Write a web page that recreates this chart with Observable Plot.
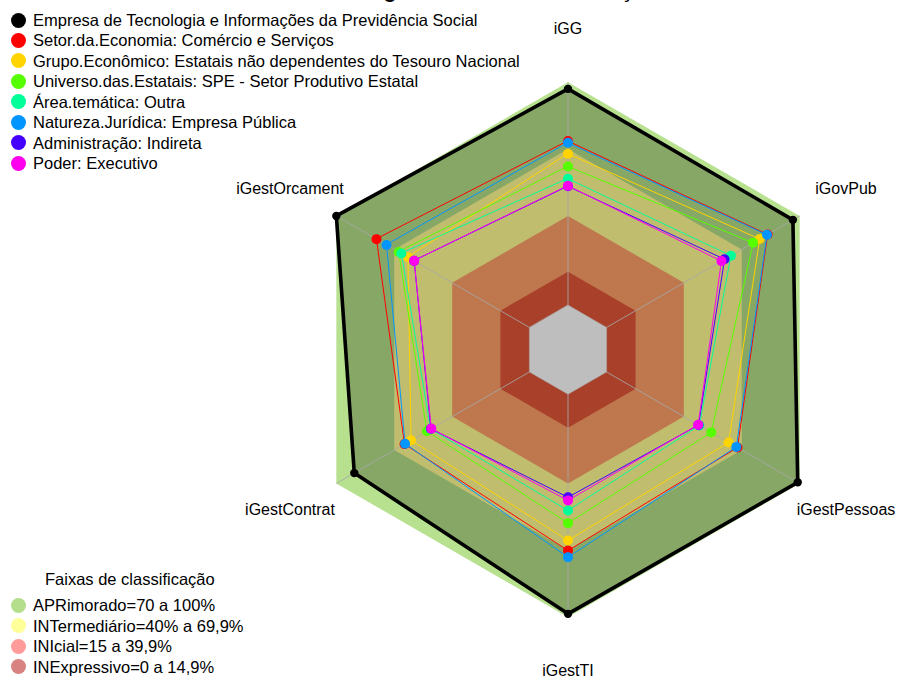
<!DOCTYPE html>
<html><head><meta charset="utf-8">
<script src="https://cdn.jsdelivr.net/npm/d3@7"></script>
<script src="https://cdn.jsdelivr.net/npm/@observablehq/plot@0.6"></script>
<style>
body{margin:0;background:#fff;font-family:"Liberation Sans",Arial,sans-serif;}
#wrap{position:relative;width:900px;height:677px;overflow:hidden;}
#wrap svg{position:absolute;left:0;top:0;}
.title{position:absolute;top:-19px;left:276px;font-weight:bold;font-size:21px;line-height:20px;white-space:nowrap;color:#000;font-family:"Liberation Sans",Arial,sans-serif;}
.leg{position:absolute;font-size:16.5px;line-height:20px;white-space:nowrap;color:#000;}
.leg .row{position:absolute;left:0;height:20px;}
.leg .sw{position:absolute;left:10.5px;width:15px;height:15px;border-radius:50%;top:2.5px;}
.leg .tx{position:absolute;left:33px;top:0;}
.leg .hd{font-size:16.5px;}
</style></head><body><div id="wrap"></div>
<script>
// ---------- data ----------
const axes = ["iGG", "iGovPub", "iGestPessoas", "iGestTI", "iGestContrat", "iGestOrcament"];

const seriesNames = [
  "Empresa de Tecnologia e Informações da Previdência Social",
  "Setor.da.Economia: Comércio e Serviços",
  "Grupo.Econômico: Estatais não dependentes do Tesouro Nacional",
  "Universo.das.Estatais: SPE - Setor Produtivo Estatal",
  "Área.temática: Outra",
  "Natureza.Jurídica: Empresa Pública",
  "Administração: Indireta",
  "Poder: Executivo"
];
const seriesColors = ["#000000", "#FF0000", "#FFD400", "#55FF00", "#00FF99", "#0095FF", "#4400FF", "#FF00EE"];

// values in axis order: iGG, iGovPub, iGestPessoas, iGestTI, iGestContrat, iGestOrcament
const empresa       = [97.0, 96.5, 99.0, 98.5, 90.7, 100.0];
const setor         = [73.6, 83.4, 67.8, 70.1, 64.7, 79.2];
const grupo         = [67.9, 79.3, 63.2, 65.6, 61.3, 62.9];
const universo      = [62.2, 75.9, 54.2, 57.8, 53.1, 67.7];
const areaTematica  = [56.7, 64.4, 48.0, 52.1, 51.2, 66.3];
const natureza      = [72.8, 83.1, 67.2, 73.1, 64.4, 74.0];
const administracao = [53.3, 61.1, 47.6, 46.2, 51.0, 59.7];
const poder         = [53.5, 59.5, 47.4, 47.6, 50.8, 59.7];
const seriesValues = [empresa, setor, grupo, universo, areaTematica, natureza, administracao, poder];

const bandTitle = "Faixas de classificação";
const bandNames = ["APRimorado=70 a 100%", "INTermediário=40% a 69,9%", "INIcial=15 a 39,9%", "INExpressivo=0 a 14,9%"];
const bandLegendColors = ["#B4DD8C", "#FFFF99", "#FF9B9B", "#D98282"];
const bandUpper = [100, 70, 40, 15, 0];
const bandFills = ["#B7E08F", "#C1BD6E", "#BF774E", "#A8402A", "#BEBEBE"];
const insideFill = "#87A766";

const titleText = "Resultado geral e índices de avaliação";

// ---------- geometry ----------
const W = 900, H = 677, cx = 567.5, cy = 349.2, R = 267.5;
const segs = 5;
const rad = v => 1 / (segs + 1) + (segs / (segs + 1)) * v / 100;
const pt = (v, i) => {
  const a = i * Math.PI / 3;
  const r = rad(v);
  return {x: r * Math.sin(a), y: r * Math.cos(a), i};
};
const poly = vals => vals.map((v, i) => pt(v, i));
const ring = v => axes.map((_, i) => pt(v, i));

const marks = [];
marks.push(Plot.line(ring(bandUpper[0]), {x: "x", y: "y", curve: "linear-closed", fill: bandFills[0], stroke: "none"}));
marks.push(Plot.line(poly(empresa), {x: "x", y: "y", curve: "linear-closed", fill: insideFill, stroke: "none"}));
for (let k = 1; k < bandUpper.length - 1; k++) {
  marks.push(Plot.line(ring(bandUpper[k]), {x: "x", y: "y", curve: "linear-closed", fill: bandFills[k], stroke: "none"}));
}
// radial axes from the zero ring to the 100% ring
const spokes = axes.map((a, i) => ({a, x1: pt(0, i).x, y1: pt(0, i).y, x2: pt(100, i).x, y2: pt(100, i).y}));
marks.push(Plot.link(spokes, {x1: "x1", y1: "y1", x2: "x2", y2: "y2", stroke: "#A8A8A8", strokeWidth: 1, strokeOpacity: 0.85}));
// centre (below zero)
marks.push(Plot.line(ring(0), {x: "x", y: "y", curve: "linear-closed", fill: bandFills[bandFills.length - 1], stroke: "#A8A8A8", strokeWidth: 0.8, strokeOpacity: 0.6}));

// series
seriesValues.forEach((vals, s) => {
  const p = poly(vals);
  const isMain = s === 0;
  marks.push(Plot.line(p, {x: "x", y: "y", curve: "linear-closed", stroke: seriesColors[s], strokeWidth: isMain ? 3.6 : 1, fill: "none"}));
  marks.push(Plot.dot(p, {x: "x", y: "y", r: isMain ? 4.2 : 5, fill: seriesColors[s], stroke: "none"}));
});

// axis labels
const labelPts = axes.map((a, i) => ({name: a, x: 1.2 * Math.sin(i * Math.PI / 3), y: 1.2 * Math.cos(i * Math.PI / 3)}));
marks.push(Plot.text(labelPts, {x: "x", y: "y", text: "name", fontSize: 16, fill: "#000", fontFamily: "Liberation Sans, Arial, sans-serif"}));

const chart = Plot.plot({
  width: W, height: H, margin: 0,
  x: {domain: [-cx / R, (W - cx) / R], axis: null},
  y: {domain: [-(H - cy) / R, cy / R], axis: null},
  style: {background: "transparent"},
  marks
});
const wrap = document.getElementById("wrap");
wrap.appendChild(chart);

// title (mostly above the visible area); align its descenders with the reference
const t = document.createElement("div");
t.className = "title"; t.textContent = titleText; wrap.appendChild(t);
function charCenter(idx) {
  const rg = document.createRange();
  rg.setStart(t.firstChild, idx); rg.setEnd(t.firstChild, idx + 1);
  const b = rg.getBoundingClientRect();
  return (b.left + b.right) / 2;
}
const gi = titleText.indexOf("g"), ci = titleText.indexOf("ç");
let d = charCenter(ci) - charCenter(gi);
if (d > 0) {
  const fs = 21 * 237 / d;
  t.style.fontSize = fs + "px";
}
const shift = 390 - charCenter(gi);
t.style.left = (276 + shift) + "px";

// legends
function legend(names, colors, top, step, titleStr) {
  const box = document.createElement("div");
  box.className = "leg"; box.style.left = "0px"; box.style.top = top + "px";
  if (titleStr) {
    const h = document.createElement("div");
    h.className = "row hd"; h.style.top = "-26px"; h.style.left = "45px"; h.textContent = titleStr;
    box.appendChild(h);
  }
  names.forEach((n, k) => {
    const row = document.createElement("div");
    row.className = "row"; row.style.top = (k * step) + "px";
    const sw = document.createElement("div"); sw.className = "sw"; sw.style.background = colors[k];
    const tx = document.createElement("div"); tx.className = "tx"; tx.textContent = n;
    row.appendChild(sw); row.appendChild(tx); box.appendChild(row);
  });
  wrap.appendChild(box);
}
legend(seriesNames, seriesColors, 10, 20.45);
legend(bandNames, bandLegendColors, 595, 20.5, bandTitle);
</script></body></html>
